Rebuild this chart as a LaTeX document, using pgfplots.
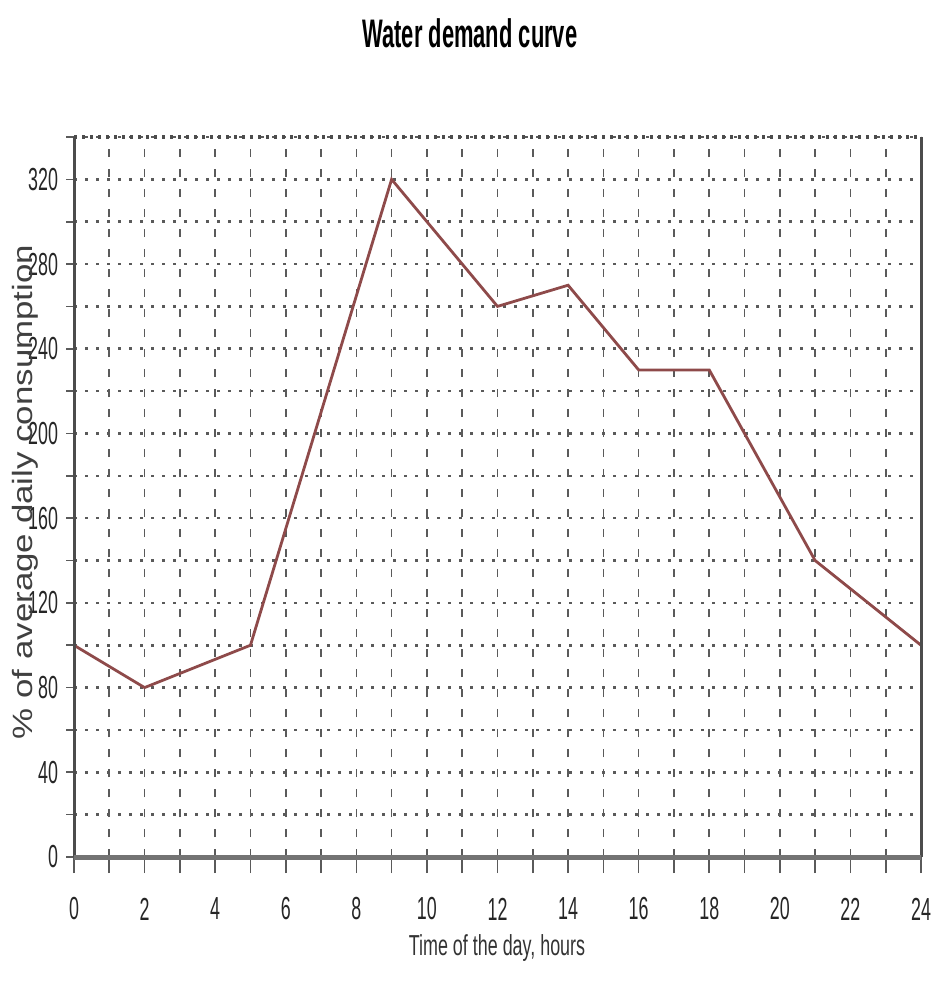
\documentclass[border=0pt]{standalone}
\usepackage{fontspec}
\setmainfont{Liberation Sans}[FakeStretch=0.56]
\newfontfamily\labfont{Liberation Sans}[FakeStretch=0.62]
\newfontfamily\titlefont{Liberation Sans}[FakeStretch=0.55]
\newfontfamily\ylabfont{Liberation Sans}[FakeStretch=1.25]
\usepackage{pgfplots}
\pgfplotsset{compat=1.18}
\definecolor{curve}{HTML}{8E4A4A}
\definecolor{gridc}{HTML}{5A5A5A}
\begin{document}
\begin{tikzpicture}
  \begin{axis}[scale only axis,
               width=423.5bp, height=360bp,
               xmin=0, xmax=24, ymin=0, ymax=340,
               xtick={0,2,...,24}, minor xtick={1,3,...,23},
               ytick={0,40,...,320}, minor ytick={20,60,...,340},
               /pgf/number format/assume math mode=true,
               grid=both,
               x grid style={gridc, line width=0.8bp, dash pattern=on 4bp off 6bp},
               y grid style={gridc, line width=1.3bp, dash pattern=on 1.3bp off 4.2bp},
               minor x grid style={gridc, line width=0.8bp, dash pattern=on 4bp off 6bp},
               minor y grid style={gridc, line width=1.3bp, dash pattern=on 1.3bp off 4.2bp},
               axis line style={draw=none},
               tick align=outside,
               major tick length=8bp, minor tick length=8bp,
               x tick style={gridc, line width=0.8bp},
               y tick style={draw=none},
               xtick pos=bottom, ytick pos=left,
               ticklabel style={font=\fontsize{16}{18}\selectfont, text=black!85},
               xticklabel style={anchor=center, yshift=-18bp},
               yticklabel style={anchor=east, xshift=3.5bp},
               title={\titlefont\bfseries Water demand curve},
               title style={font=\fontsize{20}{24}\selectfont, at={(axis description cs:0.4675,1.128)}, anchor=center},
               xlabel={\labfont Time of the day, hours},
               xlabel style={font=\fontsize{14.5}{16}\selectfont, text=black!80, at={(axis description cs:0.4994,0)}, anchor=center, yshift=-45.5bp},
               ylabel={\ylabfont\% of average daily consumption},
               ylabel style={font=\fontsize{14}{16}\selectfont, text=black!75, at={(axis description cs:0,0.507)}, anchor=center, yshift=24.5bp},
               clip=false]
    \addplot[curve, line width=1.4bp] coordinates {
      (0, 100)
      (2, 80)
      (5, 100)
      (9, 320)
      (12, 260)
      (14, 270)
      (16, 230)
      (18, 230)
      (21, 140)
      (24, 100)
    };
    % short y ticks
    \pgfplotsinvokeforeach{0,20,...,340}{
      \draw[gridc, line width=0.8bp] (axis cs:0,#1) -- ++(-4bp,0);
    }
    % frame
    \draw[black!70, line width=1.5bp] (rel axis cs:0,0) -- (rel axis cs:0,1);
    \draw[black!70, line width=1.5bp] (rel axis cs:1,0) -- (rel axis cs:1,1);
    \draw[black!55, line width=2.5bp] (rel axis cs:0,0) -- (rel axis cs:1,0);
    \draw[black!70, line width=1.8bp, dash pattern=on 1.5bp off 2.5bp] (rel axis cs:0,1) -- (rel axis cs:1,1);
  \end{axis}
  \path (-37bp,-65.5bp) rectangle (429.5bp,428.5bp);
\end{tikzpicture}
\end{document}
